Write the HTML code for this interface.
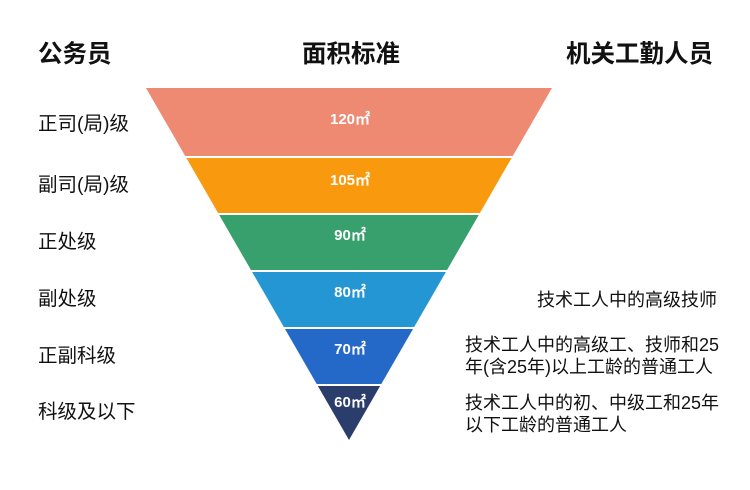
<!DOCTYPE html>
<html><head><meta charset="utf-8"><style>
body{margin:0;width:750px;height:490px;background:#fff;overflow:hidden;position:relative;font-family:"Liberation Sans","Noto Sans CJK SC",sans-serif;color:#111}
.t{position:absolute;white-space:nowrap;line-height:1}
.h{font-size:24.5px;font-weight:bold;top:43px}
.l{font-size:19.5px;left:38px}
.r{font-size:18px;line-height:22px}
</style></head><body>
<div class="t h" style="left:38px">公务员</div>
<div class="t h" style="left:302px">面积标准</div>
<div class="t h" style="left:566px">机关工勤人员</div>
<div class="t l" style="top:115px">正司(局)级</div>
<div class="t l" style="top:176px">副司(局)级</div>
<div class="t l" style="top:233px">正处级</div>
<div class="t l" style="top:290px">副处级</div>
<div class="t l" style="top:347px">正副科级</div>
<div class="t l" style="top:403px">科级及以下</div>
<svg width="750" height="490" style="position:absolute;left:0;top:0">
<defs><clipPath id="c"><polygon points="146,88 552,88 349,440"/></clipPath></defs>
<g clip-path="url(#c)">
<rect x="0" y="88" width="750" height="68" fill="#ee8a72"/>
<rect x="0" y="158" width="750" height="55" fill="#f99a0e"/>
<rect x="0" y="215" width="750" height="55" fill="#37a06c"/>
<rect x="0" y="272" width="750" height="55" fill="#2596d4"/>
<rect x="0" y="329" width="750" height="55" fill="#2468c8"/>
<rect x="0" y="386" width="750" height="60" fill="#2b3d6b"/>
</g>
<g fill="#fff" font-family="Liberation Sans, sans-serif" font-weight="bold" font-size="15" text-anchor="middle">
<text x="350" y="124">120㎡</text>
<text x="350" y="185">105㎡</text>
<text x="350" y="240">90㎡</text>
<text x="350" y="297">80㎡</text>
<text x="350" y="354">70㎡</text>
<text x="350" y="407">60㎡</text>
</g>
</svg>
<div class="t r" style="left:537px;top:289px">技术工人中的高级技师</div>
<div class="t r" style="left:465px;top:334px">技术工人中的高级工、技师和25<br>年(含25年)以上工龄的普通工人</div>
<div class="t r" style="left:465px;top:392px">技术工人中的初、中级工和25年<br>以下工龄的普通工人</div>
</body></html>
